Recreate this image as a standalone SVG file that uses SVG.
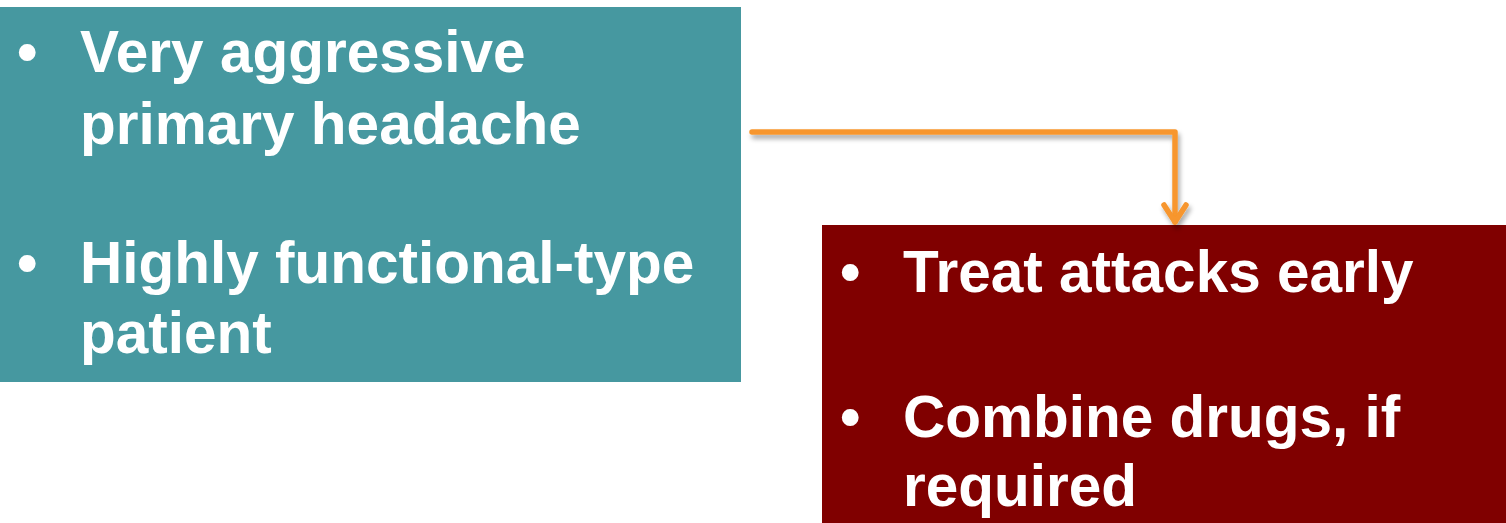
<svg xmlns="http://www.w3.org/2000/svg" width="1506" height="523" viewBox="0 0 1506 523">
<style>
.t{font-family:"Liberation Sans",Arial,sans-serif;font-weight:bold;font-size:58.5px;fill:#FFFFFF}
.c{fill:none;stroke:#F7962D;stroke-width:5.5;stroke-linecap:round;stroke-linejoin:round}
</style>
<defs>
<filter id="sh" x="-5%" y="-20%" width="110%" height="160%">
<feGaussianBlur in="SourceAlpha" stdDeviation="2.5"/>
<feOffset dx="2" dy="4" result="b"/>
<feComponentTransfer><feFuncA type="linear" slope="0.35"/></feComponentTransfer>
<feMerge><feMergeNode/><feMergeNode in="SourceGraphic"/></feMerge>
</filter>
</defs>
<g id="node-left">
<rect x="0" y="7" width="741" height="375" fill="#4698A0"/>
<text class="t" x="17" y="72">•</text>
<text class="t" x="80" y="72">Very aggressive</text>
<text class="t" x="80" y="144">primary headache</text>
<text class="t" x="17" y="283">•</text>
<text class="t" x="80" y="283">Highly functional-type</text>
<text class="t" x="80" y="353">patient</text>
</g>
<g id="node-right">
<rect x="822" y="225" width="684" height="298" fill="#800000"/>
<text class="t" x="840" y="292">•</text>
<text class="t" x="903" y="292">Treat attacks early</text>
<text class="t" x="840" y="437">•</text>
<text class="t" x="903" y="437">Combine drugs, if</text>
<text class="t" x="903" y="506">required</text>
</g>
<g id="connectors" filter="url(#sh)">
<path class="c" d="M752,132 H1175 V222"/>
<path class="c" d="M1164,205 L1175,222 L1186,205"/>
</g>
</svg>
